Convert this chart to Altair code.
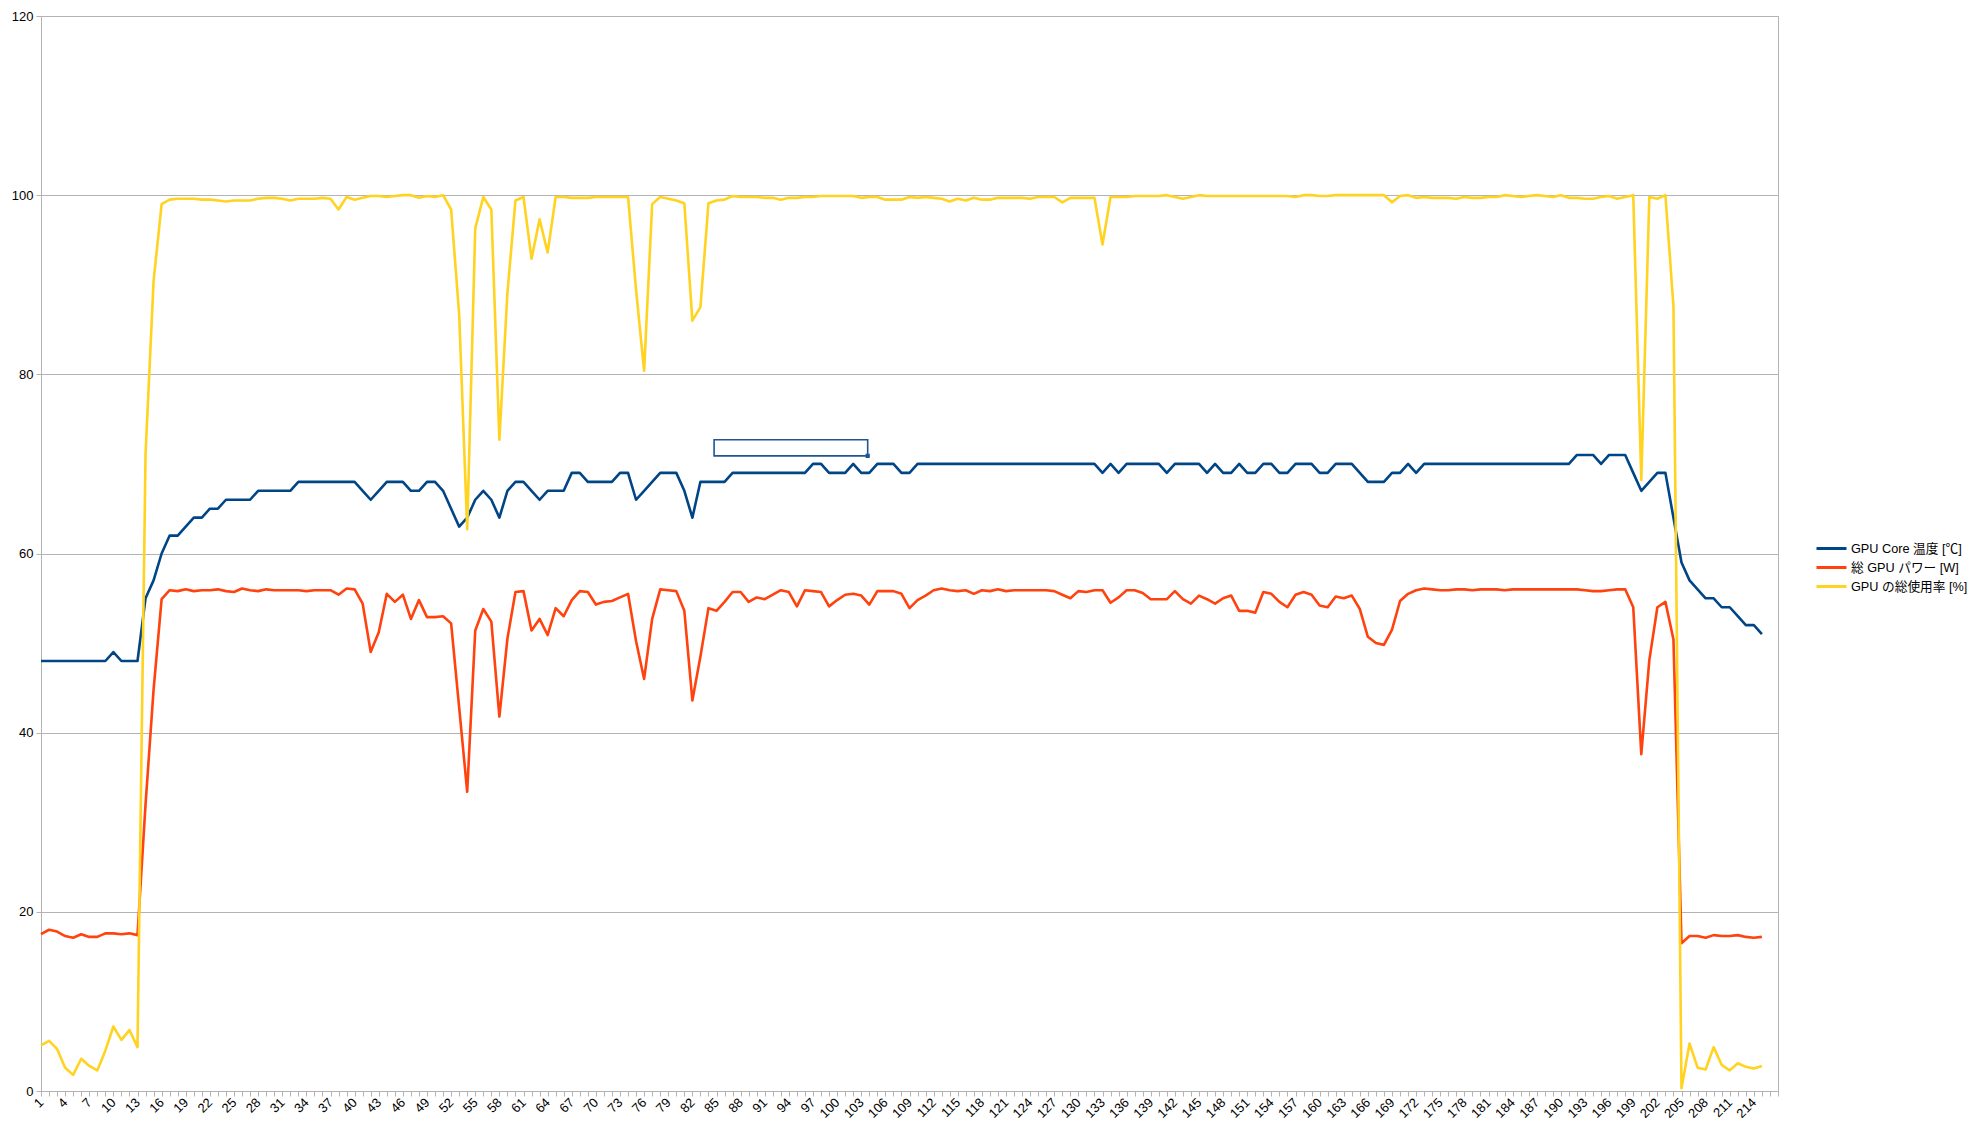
import altair as alt
import pandas as pd

series_names = ["GPU Core 温度 [℃]", "総 GPU パワー [W]", "GPU の総使用率 [%]"]
series_colors = ["#004586", "#ff420e", "#ffd320"]

gpu_temp = [
    48, 48, 48, 48, 48, 48, 48, 48, 48, 49,
    48, 48, 48, 55, 57, 60, 62, 62, 63, 64,
    64, 65, 65, 66, 66, 66, 66, 67, 67, 67,
    67, 67, 68, 68, 68, 68, 68, 68, 68, 68,
    67, 66, 67, 68, 68, 68, 67, 67, 68, 68,
    67, 65, 63, 64, 66, 67, 66, 64, 67, 68,
    68, 67, 66, 67, 67, 67, 69, 69, 68, 68,
    68, 68, 69, 69, 66, 67, 68, 69, 69, 69,
    67, 64, 68, 68, 68, 68, 69, 69, 69, 69,
    69, 69, 69, 69, 69, 69, 70, 70, 69, 69,
    69, 70, 69, 69, 70, 70, 70, 69, 69, 70,
    70, 70, 70, 70, 70, 70, 70, 70, 70, 70,
    70, 70, 70, 70, 70, 70, 70, 70, 70, 70,
    70, 70, 69, 70, 69, 70, 70, 70, 70, 70,
    69, 70, 70, 70, 70, 69, 70, 69, 69, 70,
    69, 69, 70, 70, 69, 69, 70, 70, 70, 69,
    69, 70, 70, 70, 69, 68, 68, 68, 69, 69,
    70, 69, 70, 70, 70, 70, 70, 70, 70, 70,
    70, 70, 70, 70, 70, 70, 70, 70, 70, 70,
    70, 71, 71, 71, 70, 71, 71, 71, 69, 67,
    68, 69, 69, 64, 59, 57, 56, 55, 55, 54,
    54, 53, 52, 52, 51,
]

gpu_power = [
    17.5, 18.0, 17.8, 17.3, 17.1, 17.5, 17.2, 17.2, 17.6, 17.6,
    17.5, 17.6, 17.4, 32.0, 44.8, 54.9, 55.9, 55.8, 56.0, 55.8,
    55.9, 55.9, 56.0, 55.8, 55.7, 56.1, 55.9, 55.8, 56.0, 55.9,
    55.9, 55.9, 55.9, 55.8, 55.9, 55.9, 55.9, 55.4, 56.1, 56.0,
    54.4, 49.0, 51.2, 55.5, 54.6, 55.4, 52.7, 54.8, 52.9, 52.9,
    53.0, 52.2, 42.8, 33.4, 51.4, 53.8, 52.4, 41.8, 50.5, 55.7,
    55.8, 51.4, 52.7, 50.9, 53.9, 53.0, 54.8, 55.8, 55.7, 54.3,
    54.6, 54.7, 55.1, 55.5, 50.2, 46.0, 52.7, 56.0, 55.9, 55.8,
    53.6, 43.6, 48.5, 53.9, 53.6, 54.6, 55.7, 55.7, 54.6, 55.1,
    54.9, 55.4, 55.9, 55.7, 54.1, 55.9, 55.8, 55.7, 54.1, 54.8,
    55.4, 55.5, 55.3, 54.3, 55.8, 55.8, 55.8, 55.5, 53.9, 54.8,
    55.3, 55.9, 56.1, 55.9, 55.8, 55.9, 55.5, 55.9, 55.8, 56.0,
    55.8, 55.9, 55.9, 55.9, 55.9, 55.9, 55.8, 55.4, 55.0, 55.8,
    55.7, 55.9, 55.9, 54.5, 55.1, 55.9, 55.9, 55.6, 54.9, 54.9,
    54.9, 55.8, 54.9, 54.4, 55.3, 54.9, 54.4, 55.0, 55.3, 53.6,
    53.6, 53.4, 55.7, 55.5, 54.6, 54.0, 55.4, 55.7, 55.4, 54.2,
    54.0, 55.2, 55.0, 55.3, 53.8, 50.7, 50.0, 49.8, 51.5, 54.7,
    55.5, 55.9, 56.1, 56.0, 55.9, 55.9, 56.0, 56.0, 55.9, 56.0,
    56.0, 56.0, 55.9, 56.0, 56.0, 56.0, 56.0, 56.0, 56.0, 56.0,
    56.0, 56.0, 55.9, 55.8, 55.8, 55.9, 56.0, 56.0, 54.0, 37.6,
    48.1, 54.0, 54.6, 50.4, 16.5, 17.3, 17.3, 17.1, 17.4, 17.3,
    17.3, 17.4, 17.2, 17.1, 17.2,
]

gpu_usage = [
    5.1, 5.6, 4.7, 2.6, 1.8, 3.6, 2.8, 2.3, 4.5, 7.2,
    5.7, 6.8, 4.9, 71.1, 90.4, 99.0, 99.5, 99.6, 99.6, 99.6,
    99.5, 99.5, 99.4, 99.3, 99.4, 99.4, 99.4, 99.6, 99.7, 99.7,
    99.6, 99.4, 99.6, 99.6, 99.6, 99.7, 99.6, 98.4, 99.8, 99.5,
    99.7, 99.9, 99.9, 99.8, 99.9, 100.0, 100.0, 99.7, 99.9, 99.8,
    100.0, 98.4, 86.7, 62.7, 96.3, 99.8, 98.4, 72.7, 89.1, 99.4,
    99.8, 92.9, 97.3, 93.6, 99.8, 99.8, 99.7, 99.7, 99.7, 99.8,
    99.8, 99.8, 99.8, 99.8, 89.4, 80.4, 99.0, 99.8, 99.6, 99.4,
    99.1, 86.0, 87.5, 99.1, 99.4, 99.5, 99.9, 99.8, 99.8, 99.8,
    99.7, 99.7, 99.5, 99.7, 99.7, 99.8, 99.8, 99.9, 99.9, 99.9,
    99.9, 99.9, 99.7, 99.8, 99.8, 99.5, 99.5, 99.5, 99.8, 99.7,
    99.8, 99.7, 99.6, 99.3, 99.6, 99.4, 99.7, 99.5, 99.5, 99.7,
    99.7, 99.7, 99.7, 99.6, 99.8, 99.8, 99.8, 99.2, 99.7, 99.7,
    99.7, 99.7, 94.5, 99.8, 99.8, 99.8, 99.9, 99.9, 99.9, 99.9,
    100.0, 99.8, 99.6, 99.8, 100.0, 99.9, 99.9, 99.9, 99.9, 99.9,
    99.9, 99.9, 99.9, 99.9, 99.9, 99.9, 99.8, 100.0, 100.0, 99.9,
    99.9, 100.0, 100.0, 100.0, 100.0, 100.0, 100.0, 100.0, 99.2, 99.9,
    100.0, 99.7, 99.8, 99.7, 99.7, 99.7, 99.6, 99.8, 99.7, 99.7,
    99.8, 99.8, 100.0, 99.9, 99.8, 99.9, 100.0, 99.9, 99.8, 100.0,
    99.7, 99.7, 99.6, 99.6, 99.8, 99.9, 99.6, 99.8, 100.0, 68.2,
    99.8, 99.6, 100.0, 87.6, 0.3, 5.3, 2.6, 2.4, 4.9, 2.9,
    2.3, 3.1, 2.7, 2.5, 2.8,
]

x_ticks = list(range(1, 218))
x_label_last = 214
y_ticks = [0, 20, 40, 60, 80, 100, 120]
x_domain = [1, 217]
y_domain = [0, 120]

# stray selection box visible in the reference (data coordinates)
box_x = [84.7, 103.8]
box_y = [72.7, 70.9]

FONT = "Liberation Sans, Noto Sans CJK JP, sans-serif"
GRID = "#b3b3b3"

rows = []
for name, vals in zip(series_names, [gpu_temp, gpu_power, gpu_usage]):
    for i, v in enumerate(vals):
        rows.append({"idx": i + 1, "value": v, "series": name})
df = pd.DataFrame(rows)

x_axis = alt.Axis(
    values=x_ticks,
    labelExpr=f"((datum.value - 1) % 3 == 0 && datum.value <= {x_label_last}) ? datum.label : ''",
    format="d",
    labelAngle=315,
    labelAlign="right",
    labelBaseline="middle",
    labelFontSize=13,
    labelFont=FONT,
    labelColor="#000000",
    labelOverlap=False,
    labelFlush=False,
    labelBound=False,
    labelPadding=4,
    tickSize=5,
    tickColor=GRID,
    domainColor=GRID,
    grid=False,
    title=None,
)
y_axis = alt.Axis(
    values=y_ticks,
    format="d",
    labelFontSize=13,
    labelFont=FONT,
    labelColor="#000000",
    labelPadding=3,
    labelOverlap=False,
    tickSize=5,
    tickColor=GRID,
    domainColor=GRID,
    grid=True,
    gridColor=GRID,
    title=None,
)
x_scale = alt.Scale(domain=x_domain, nice=False, zero=False)
y_scale = alt.Scale(domain=y_domain, nice=False, zero=True)

color_enc = alt.Color(
    "series:N",
    scale=alt.Scale(domain=series_names, range=series_colors),
    sort=series_names,
    legend=alt.Legend(
        title=None,
        orient="none",
        legendX=1784,
        legendY=526,
        symbolType="M-3,0L3,0",
        symbolSize=100,
        symbolStrokeWidth=3,
        labelFont=FONT,
        labelFontSize=12.7,
        labelColor="#000000",
        labelOffset=13,
        rowPadding=5,
        padding=0,
        labelLimit=300,
    ),
)

layers = []
for name in series_names:
    layers.append(
        alt.Chart(df)
        .transform_filter(alt.datum.series == name)
        .mark_line(strokeWidth=2.6, strokeJoin="round")
        .encode(
            x=alt.X("idx:Q", scale=x_scale, axis=x_axis),
            y=alt.Y("value:Q", scale=y_scale, axis=y_axis),
            color=color_enc,
        )
    )

box_df = pd.DataFrame({"idx": [box_x[0]], "idx2": [box_x[1]], "value": [box_y[0]], "value2": [box_y[1]]})
box = alt.Chart(box_df).mark_rect(fill="#ffffff", stroke="#1f5597", strokeWidth=1.6).encode(
    x=alt.X("idx:Q", scale=x_scale, axis=x_axis),
    x2="idx2:Q",
    y=alt.Y("value:Q", scale=y_scale, axis=y_axis),
    y2="value2:Q",
)
handle = alt.Chart(box_df).mark_square(size=18, color="#1f5597", opacity=1).encode(
    x=alt.X("idx2:Q", scale=x_scale, axis=x_axis, title=None),
    y=alt.Y("value2:Q", scale=y_scale, axis=y_axis, title=None),
)

chart = (
    alt.layer(*layers, box, handle)
    .properties(
        width=1737,
        height=1075,
        padding={"left": 33, "top": 8, "right": 192, "bottom": 30},
        autosize=alt.AutoSizeParams(type="none"),
        background="#ffffff",
    )
    .configure_view(stroke=GRID, strokeWidth=1)
    .configure_axisX(labelOverlap=False)
    .configure_axis(labelOverlap=False)
)

chart.save("out.html", embed_options={"renderer": "svg", "actions": False})
